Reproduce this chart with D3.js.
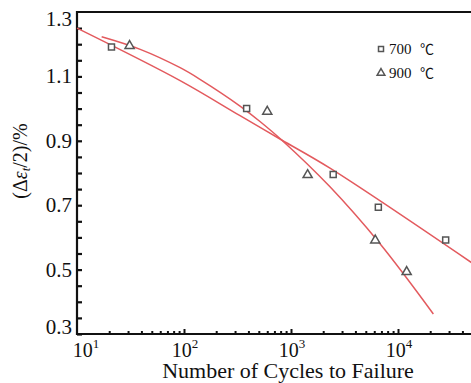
<!DOCTYPE html>
<html>
<head>
<meta charset="utf-8">
<script src="https://cdn.jsdelivr.net/npm/d3@7"></script>
<style>
  body { margin: 0; background: #fff; }
  text { font-family: "Liberation Serif", "Times New Roman", serif; fill: #111; }
</style>
</head>
<body>
<script>
var cycles700 = [21, 385, 2480, 6550, 27900];
var strain700 = [1.191, 1.0, 0.795, 0.694, 0.592];
var cycles900 = [31, 600, 1430, 6130, 12050];
var strain900 = [1.198, 0.994, 0.797, 0.594, 0.496];

// fitted curves, points
var fit700Cycles = [10, 92, 334, 818, 2314, 50000];
var fit700Strain = [1.25, 1.087, 0.978, 0.9025, 0.815, 0.519];
var fit900Cycles = [17, 39, 92, 141, 334, 513, 818, 2314, 6790, 21400];
var fit900Strain = [1.223, 1.184, 1.127, 1.091, 1.008, 0.960, 0.9025, 0.757, 0.580, 0.362];

// tick labels
var yLabels = [0.3, 0.5, 0.7, 0.9, 1.1, 1.3];
var xDecades = [10, 100, 1000, 10000];
var xExponents = ["1", "2", "3", "4"];
var legendNames = ["700", "900"];

var width = 471, height = 383;
var plotLeft = 77, plotTop = 12, plotBottom = 334;

var svg = d3.select("body").append("svg")
  .attr("width", width)
  .attr("height", height);

var x = d3.scaleLog().domain([10, 100000]).range([plotLeft, plotLeft + 4 * 107]);
var y = d3.scaleLinear().domain([0.3, 1.3]).range([plotBottom, plotTop]);

// inward ticks on the y axis, every 0.05
var yTicks = d3.range(0.3, 1.2751, 0.05);
svg.append("g")
  .attr("transform", "translate(" + plotLeft + ",0)")
  .call(d3.axisRight(y).tickValues(yTicks).tickSize(5).tickFormat(""))
  .call(function (g) { g.select(".domain").remove(); })
  .selectAll("line").attr("stroke", "#111").attr("stroke-width", 2.2);

// minor x ticks at 2..9 of each decade
var minorX = [];
[10, 100, 1000, 10000].forEach(function (d) {
  for (var k = 2; k <= 9; k++) minorX.push(d * k);
});
svg.append("g")
  .attr("transform", "translate(0," + plotBottom + ")")
  .call(d3.axisTop(x).tickValues(minorX).tickSize(3).tickFormat(""))
  .call(function (g) { g.select(".domain").remove(); })
  .selectAll("line").attr("stroke", "#111").attr("stroke-width", 2);
svg.append("g")
  .attr("transform", "translate(0," + plotBottom + ")")
  .call(d3.axisTop(x).tickValues([100, 1000, 10000]).tickSize(5).tickFormat(""))
  .call(function (g) { g.select(".domain").remove(); })
  .selectAll("line").attr("stroke", "#111").attr("stroke-width", 2);

// frame: left, bottom, top
svg.append("path")
  .attr("d", "M" + width + "," + plotTop + "H" + plotLeft + "V" + plotBottom + "H" + width)
  .attr("fill", "none")
  .attr("stroke", "#111")
  .attr("stroke-width", 2.2);

// y tick labels
svg.selectAll(".ylab").data(yLabels).enter().append("text")
  .attr("class", "ylab")
  .attr("x", plotLeft - 5)
  .attr("y", function (d) {
    var dy = 7;
    if (d === 1.3) dy = 14;
    if (d === 0.3) dy = 0;
    return y(d) + dy;
  })
  .attr("text-anchor", "end")
  .style("font-size", "21px")
  .text(function (d) { return d.toFixed(1); });

// x tick labels 10^n
var xl = svg.selectAll(".xlab").data(xDecades).enter().append("text")
  .attr("class", "xlab")
  .attr("x", function (d, i) { return x(d) + (i === 0 ? 9 : 1); })
  .attr("y", 357)
  .attr("text-anchor", "middle")
  .style("font-size", "20px");
xl.append("tspan").text("10");
xl.append("tspan")
  .attr("dy", -9)
  .style("font-size", "13px")
  .text(function (d, i) { return xExponents[i]; });

// axis titles
svg.append("text")
  .attr("x", 288)
  .attr("y", 378)
  .attr("text-anchor", "middle")
  .style("font-size", "22px")
  .text("Number of Cycles to Failure");

var yt = svg.append("text")
  .attr("transform", "translate(27,161) rotate(-90)")
  .attr("text-anchor", "middle")
  .style("font-size", "20px");
yt.append("tspan").text("(\u0394");
yt.append("tspan").style("font-style", "italic").text("\u03b5");
yt.append("tspan").attr("dy", 3).style("font-size", "13px").style("font-style", "italic").text("t");
yt.append("tspan").attr("dy", -3).text("/2)/%");

// fitted curves
var line = d3.line()
  .x(function (d) { return x(d[0]); })
  .y(function (d) { return y(d[1]); })
  .curve(d3.curveCatmullRom);

[[fit700Cycles, fit700Strain], [fit900Cycles, fit900Strain]].forEach(function (f) {
  svg.append("path")
    .datum(d3.zip(f[0], f[1]))
    .attr("d", line)
    .attr("fill", "none")
    .attr("stroke", "#e35a5e")
    .attr("stroke-width", 1.5);
});

var markerColor = "#555";
var square = d3.symbol().type(d3.symbolSquare).size(36);
var triangle = d3.symbol().type(d3.symbolTriangle).size(36);

svg.selectAll(".sq").data(d3.zip(cycles700, strain700)).enter().append("path")
  .attr("class", "sq")
  .attr("d", square)
  .attr("transform", function (d) { return "translate(" + x(d[0]) + "," + y(d[1]) + ")"; })
  .attr("fill", "#fff")
  .attr("stroke", markerColor)
  .attr("stroke-width", 1.5);

svg.selectAll(".tri").data(d3.zip(cycles900, strain900)).enter().append("path")
  .attr("class", "tri")
  .attr("d", triangle)
  .attr("transform", function (d) { return "translate(" + x(d[0]) + "," + (y(d[1]) + 1) + ")"; })
  .attr("fill", "#fff")
  .attr("stroke", markerColor)
  .attr("stroke-width", 1.5);

// legend
var legend = svg.append("g");
legendNames.forEach(function (name, i) {
  var ly = 49 + i * 24;
  legend.append("path")
    .attr("d", i === 0 ? d3.symbol().type(d3.symbolSquare).size(25)() : d3.symbol().type(d3.symbolTriangle).size(26)())
    .attr("transform", "translate(381," + ly + ")")
    .attr("fill", "#fff")
    .attr("stroke", markerColor)
    .attr("stroke-width", 1.5);
  var t = legend.append("text")
    .attr("x", 389)
    .attr("y", ly + 5)
    .style("font-size", "15px");
  t.append("tspan").text(name);
  t.append("tspan")
    .attr("x", 420)
    .style("font-family", "'Noto Sans CJK SC', serif")
    .style("font-size", "14px")
    .text("\u2103");
});
</script>
</body>
</html>
